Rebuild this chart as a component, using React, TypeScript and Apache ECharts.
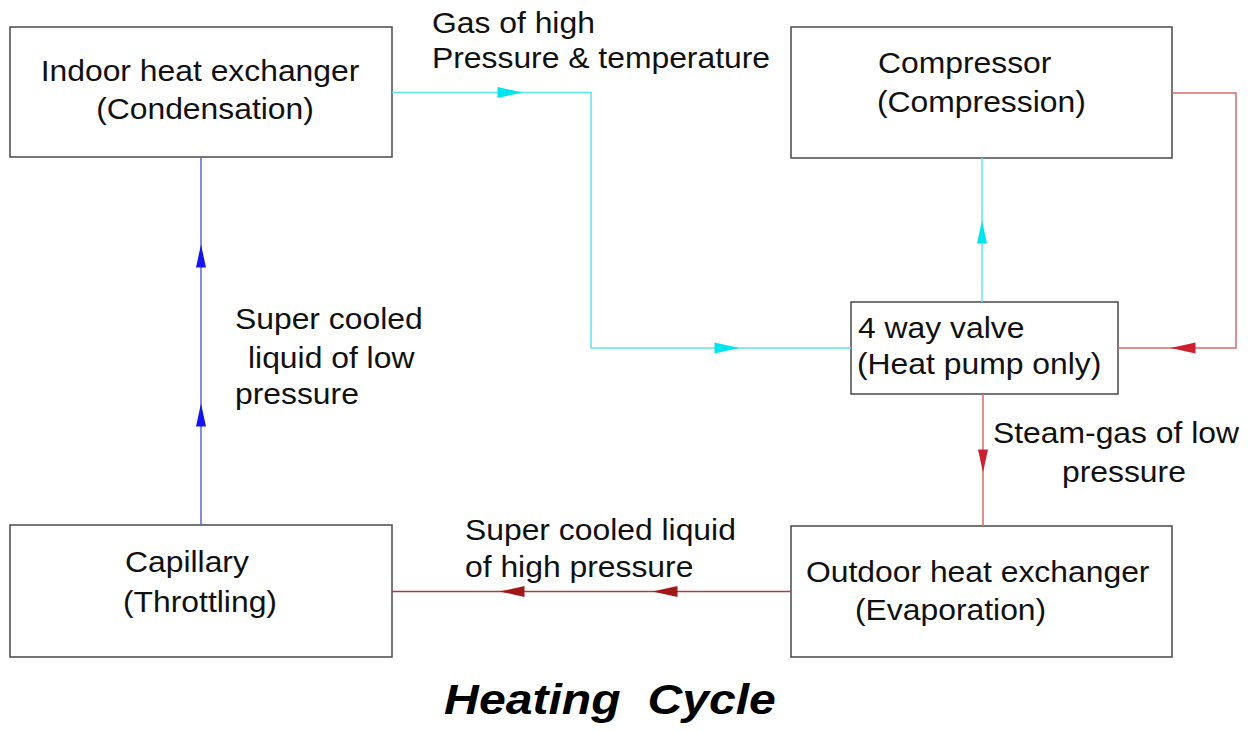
import React, { useEffect, useRef } from "react";
import * as echarts from "echarts";

// ---- Diagram data (in pixel units of a 1256 x 731 canvas) ----
const boxNames = ["Indoor heat exchanger", "Compressor", "4 way valve", "Capillary", "Outdoor heat exchanger"];
const boxRects = [
  [10, 27, 392, 157],
  [791, 27, 1172, 158],
  [851, 302, 1118, 394],
  [10, 525, 392, 657],
  [791, 526, 1172, 657],
];

const labelTexts = [
  "Indoor heat exchanger",
  "(Condensation)",
  "Gas of high",
  "Pressure & temperature",
  "Compressor",
  "(Compression)",
  "4 way valve",
  "(Heat pump only)",
  "Super cooled",
  "liquid of low",
  "pressure",
  "Steam-gas of low",
  "pressure",
  "Super cooled liquid",
  "of high pressure",
  "Capillary",
  "(Throttling)",
  "Outdoor heat exchanger",
  "(Evaporation)",
];
// [x, baseline]
const labelPos = [
  [200, 81],
  [205, 119],
  [432, 33],
  [432, 68],
  [878, 73],
  [877, 112],
  [858, 338],
  [857, 374],
  [235, 329],
  [248, 368],
  [235, 404],
  [993, 443],
  [1062, 482],
  [465, 540],
  [465, 577],
  [125, 572],
  [123, 612],
  [806, 582],
  [855, 620],
];
const labelAlign = [
  "center", "center", "left", "left", "left", "left", "left", "left", "left", "left",
  "left", "left", "left", "left", "left", "left", "left", "left", "left",
];

const flowNames = ["Capillary → Indoor", "Indoor → Valve", "Valve → Compressor", "Compressor → Valve", "Valve → Outdoor", "Outdoor → Capillary"];
const flowPaths = [
  [[201, 525], [201, 157]],
  [[392, 92.5], [591, 92.5], [591, 348], [851, 348]],
  [[982, 302], [982, 158]],
  [[1172, 93], [1236, 93], [1236, 348], [1118, 348]],
  [[983, 394], [983, 526]],
  [[791, 591.5], [392, 591.5]],
];
const flowColors = ["#5a66d8", "#62e4ec", "#62e4ec", "#d66a6a", "#d66a6a", "#a84040"];

const arrowPos = [
  [201, 256],
  [201, 415],
  [510, 92.5],
  [727, 348],
  [982, 232],
  [1183, 348],
  [983, 461],
  [512, 591.5],
  [665, 591.5],
];
const arrowDir = ["up", "up", "right", "right", "up", "left", "down", "left", "left"];
const arrowColors = ["#1414f0", "#1414f0", "#00e4ee", "#00e4ee", "#00e4ee", "#cc2030", "#cc2030", "#a01818", "#a01818"];

const titleText = "Heating  Cycle";

const FAM = '"Liberation Sans", Arial, Helvetica, sans-serif';
const F = 29.5;
const SX = 1.08;

const dirRot: Record<string, number> = { up: 0, right: -90, down: 180, left: 90 };

export default function App() {
  const ref = useRef<HTMLDivElement>(null);
  useEffect(() => {
    document.body.style.margin = "0";
    const chart = echarts.init(ref.current!, null, { renderer: "svg" });
    chart.setOption({
      animation: false,
      backgroundColor: "#ffffff",
      grid: { left: 0, right: 0, top: 0, bottom: 0, containLabel: false },
      xAxis: { type: "value", min: 0, max: 1256, show: false },
      yAxis: { type: "value", min: 0, max: 731, inverse: true, show: false },
      tooltip: { show: false },
      series: [
        {
          type: "custom",
          name: "boxes",
          silent: true,
          coordinateSystem: "cartesian2d",
          encode: { x: [0, 2], y: [1, 3] },
          data: boxRects.map((r, i) => ({ name: boxNames[i], value: r })),
          renderItem: (params: any, api: any) => {
            const p0 = api.coord([api.value(0), api.value(1)]);
            const p1 = api.coord([api.value(2), api.value(3)]);
            return {
              type: "rect",
              shape: { x: p0[0], y: p0[1], width: p1[0] - p0[0], height: p1[1] - p0[1] },
              style: { fill: "#ffffff", stroke: "#4a4a4a", lineWidth: 1.5 },
            };
          },
        },
        {
          type: "lines",
          name: "flows",
          silent: true,
          coordinateSystem: "cartesian2d",
          polyline: true,
          symbol: "none",
          data: flowPaths.map((c, i) => ({
            name: flowNames[i],
            coords: c,
            lineStyle: { color: flowColors[i], width: 1.5, opacity: 1 },
          })),
          z: 3,
        },
        {
          type: "scatter",
          name: "arrows",
          silent: true,
          symbol: "triangle",
          z: 4,
          data: arrowPos.map((p, i) => {
            const horiz = arrowDir[i] === "left" || arrowDir[i] === "right";
            return {
              value: p,
              symbolRotate: dirRot[arrowDir[i]],
              symbolSize: horiz ? [11, 25] : [10, 23],
              itemStyle: { color: arrowColors[i], opacity: 1 },
            };
          }),
        },
        {
          type: "custom",
          name: "labels",
          silent: true,
          coordinateSystem: "cartesian2d",
          z: 5,
          data: labelPos.map((p, i) => ({ name: labelTexts[i], value: p })),
          renderItem: (params: any, api: any) => {
            const i = params.dataIndex;
            const p = api.coord([api.value(0), api.value(1)]);
            return {
              type: "text",
              x: p[0],
              y: p[1] - 0.34 * F,
              scaleX: SX,
              style: {
                text: labelTexts[i],
                fill: "#111111",
                fontSize: F,
                fontFamily: FAM,
                textAlign: labelAlign[i],
                textVerticalAlign: "middle",
                verticalAlign: "middle",
              },
            };
          },
        },
      ],
      graphic: [
        {
          type: "text",
          x: 610,
          y: 699,
          scaleX: 1.12,
          style: {
            text: titleText,
            fill: "#000000",
            fontSize: 43,
            fontWeight: "bold",
            fontStyle: "italic",
            fontFamily: FAM,
            textAlign: "center",
            textVerticalAlign: "middle",
            verticalAlign: "middle",
          },
        },
      ],
    });
    return () => chart.dispose();
  }, []);
  return <div ref={ref} style={{ position: "absolute", left: 0, top: 0, width: 1256, height: 731 }} />;
}
